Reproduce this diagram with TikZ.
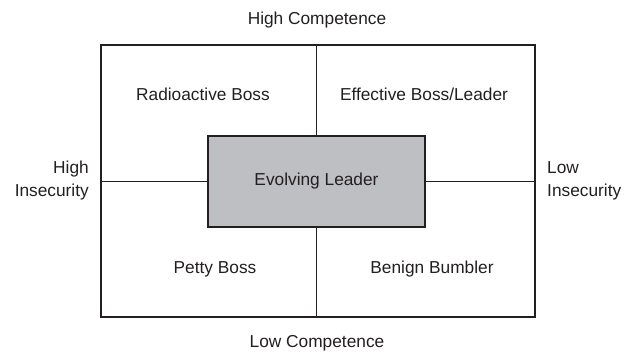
\documentclass[tikz,border=0pt]{standalone}
\usepackage{fontspec}
\setmainfont{Liberation Sans}
\usetikzlibrary{positioning}
\definecolor{ink}{HTML}{231F20}
\definecolor{hubgray}{HTML}{BEBFC3}

\tikzset{
  grid line/.style={draw=ink, line width=1.9pt},
  quad label/.style={font=\fontsize{17.3}{21}\selectfont, text=ink},
  axis label/.style={font=\fontsize{17.3}{23}\selectfont, text=ink, inner sep=0pt}
}

\begin{document}
\begin{tikzpicture}[x=1pt, y=-1pt]

% Canvas
\useasboundingbox (0,0) rectangle (624,354);

% Outer frame and central box
\node[grid line, minimum width=434pt, minimum height=272pt, inner sep=0pt] (frame) at (318,181) {};
\node[grid line, fill=hubgray, minimum width=217pt, minimum height=91pt, inner sep=0pt] (hub) at (316.5,181.5) {};
\node[quad label] (evolving) at (hub.center) {Evolving Leader};

% Dividers from the central box out to the frame
\draw[grid line] (hub.north) -- (hub.north |- frame.north);
\draw[grid line] (hub.south) -- (hub.south |- frame.south);
\draw[grid line] (hub.west) -- (hub.west -| frame.west);
\draw[grid line] (hub.east) -- (hub.east -| frame.east);

% Quadrants
\node[quad label] (radio) at (203,94) {Radioactive Boss};
\node[quad label] (effective) at (424,94) {Effective Boss/Leader};
\node[quad label] (petty) at (215,269) {Petty Boss};
\node[quad label] (benign) at (432,269) {Benign Bumbler};

% Axis labels
\node[axis label] (highcomp) at (317,20) {High Competence};
\node[axis label] (lowcomp) at (317,343) {Low Competence};
\node[axis label, align=right, anchor=east] (highins) at (89,181) {High\\Insecurity};
\node[axis label, align=left, anchor=west] (lowins) at (547,181) {Low\\Insecurity};

\end{tikzpicture}
\end{document}
